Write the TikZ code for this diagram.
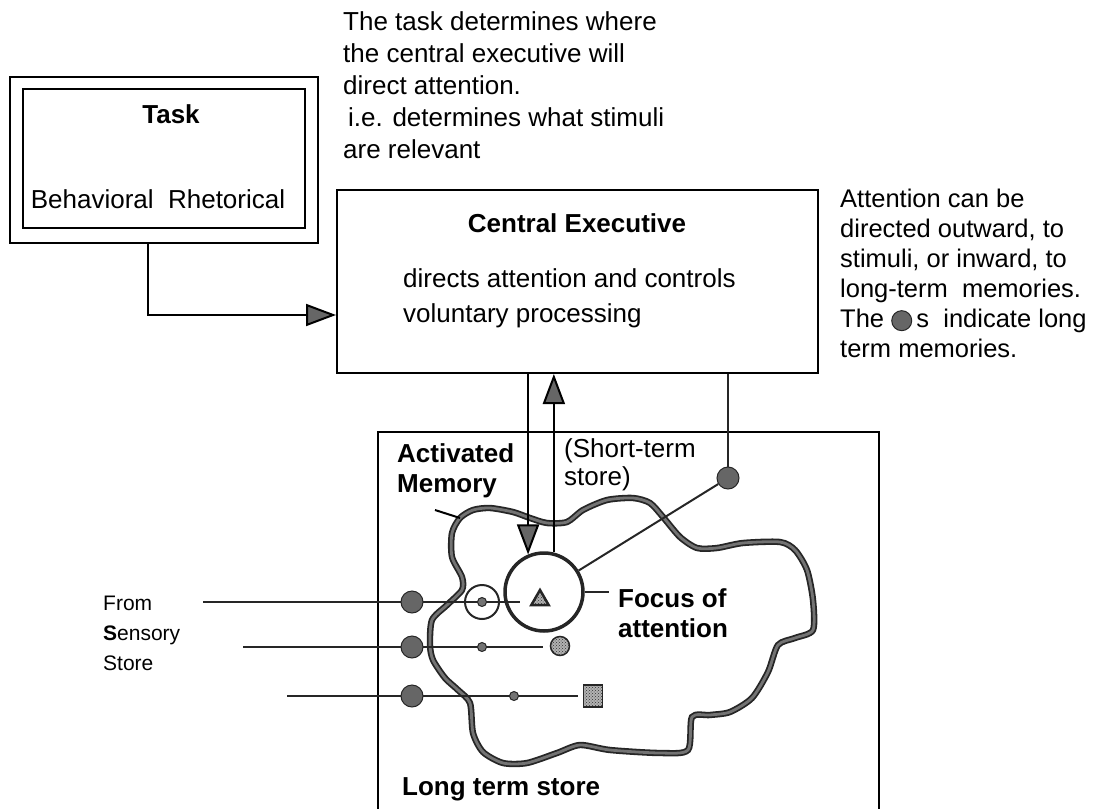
\documentclass[tikz,border=0pt]{standalone}
\usepackage{fontspec}
\setmainfont{Liberation Sans}
\usetikzlibrary{arrows.meta,shapes.geometric,patterns}
\newcommand{\memdot}{\tikz[baseline={(0pt,-7pt)}]\filldraw[draw=black!85,fill=black!60,line width=1pt] (0pt,0pt) circle (10pt);}

\begin{document}
\begin{tikzpicture}[x=1pt, y=-1pt,
  font=\fontsize{26}{31}\selectfont,
  box/.style={draw, line width=2pt, inner sep=0pt},
  txt/.style={anchor=north west, align=left, inner sep=0pt},
  bf/.style={font=\fontsize{26}{30}\selectfont\bfseries},
  wire/.style={draw=black!85, line width=2pt},
  arr/.style={line width=2pt, -{Triangle[length=30pt, width=22pt, fill=black!60]}},
  memline/.style={draw=black!85, line width=1.8pt, double=black!55, double distance=2.8pt},
  bigdot/.style={circle, draw=black!85, fill=black!60, line width=1pt, minimum size=22pt, inner sep=0pt},
  smalldot/.style={circle, draw=black!85, fill=black!55, line width=1pt, minimum size=9pt, inner sep=0pt},
  stim/.style={draw=black!85, line width=1.5pt, preaction={fill=black!30}, pattern=crosshatch dots, pattern color=black!80, inner sep=0pt}]
\useasboundingbox (0,0) rectangle (1104,809);

\node[box, line width=2.5pt, minimum width=308pt, minimum height=166pt] (task) at (164,160) {};
\node[box, line width=1.5pt, minimum width=282pt, minimum height=139pt] (taskin) at (164,158.5) {};
\node[bf, anchor=base, inner sep=0pt] (tasklbl) at (171,123) {Task};
\node[anchor=base, inner sep=0pt] (kinds) at (158,208) {Behavioral\ \ Rhetorical};

\node[txt, font=\fontsize{26}{32}\selectfont] (tasknote) at (343,11) {The task determines where\\the central executive will\\direct attention.\\\hspace*{5pt}i.e. determines what stimuli\\are relevant};

\node[box, minimum width=481pt, minimum height=183pt] (ce) at (577.5,281.5) {};
\node[bf, anchor=base, inner sep=0pt] (celbl) at (577,232) {Central Executive};
\node[txt, font=\fontsize{26}{35}\selectfont] (cetext) at (403,268) {directs attention and controls\\voluntary processing};

\node[txt, font=\fontsize{25.5}{30}\selectfont] (attnote) at (840,189) {Attention can be\\directed outward, to\\stimuli, or inward, to\\long-term\ \ memories.\\The \memdot\,s\ \ indicate long\\term memories.};

\draw[line width=2pt] (378,815) |- (879,432) -- (879,815);
\node[txt, bf] (actlbl) at (397,443) {Activated\\Memory};
\node[txt, font=\fontsize{26}{28}\selectfont] (stslbl) at (564,438) {(Short-term\\store)};
\node[bf, anchor=base west, inner sep=0pt] (ltslbl) at (402,795) {Long term store};
\node[txt, font=\fontsize{21}{30}\selectfont] (senslbl) at (103,596) {From\\\textbf{S}ensory\\Store};

\draw[memline] plot[smooth cycle, tension=0.45] coordinates {(460,518) (473,510) (490,508) (513,512) (530,518) (547,523) (567,522) (583,510) (607,500) (633,498) (650,503) (663,517) (680,537) (697,548) (717,548) (743,543) (780,542) (795,550) (807,570) (813,600) (813,630) (795,638) (778,645) (768,672) (752,698) (730,712) (710,715) (692,717) (688,750) (660,753) (610,750) (580,745) (557,753) (527,763) (503,763) (483,752) (473,733) (470,703) (458,690) (445,678) (433,660) (430,645) (432,620) (447,605) (462,590) (462,577) (452,557) (452,533)};
\coordinate (mptr) at (435,510);
\coordinate (mtip) at (460,518);
\draw[line width=2pt] (mptr) -- (mtip);

\coordinate (in1) at (203,602);
\coordinate (in2) at (243,647);
\coordinate (in3) at (287,696);
\coordinate (out1) at (520,602);
\coordinate (out2) at (543,647);
\coordinate (out3) at (578,696);
\draw[wire] (in1) -- (out1);
\draw[wire] (in2) -- (out2);
\draw[wire] (in3) -- (out3);

\node[bigdot] (m1) at (412,602) {};
\node[bigdot] (m2) at (412,647) {};
\node[bigdot] (m3) at (412,696) {};
\node[circle, draw=black!85, line width=2pt, minimum size=34pt] (sel) at (482,602) {};
\node[smalldot] (s1) at (482,602) {};
\node[smalldot] (s2) at (482,647) {};
\node[smalldot] (s3) at (514,696) {};
\node[circle, draw=black!85, line width=3.5pt, minimum size=78pt] (foc) at (544,592) {};
\node[stim, regular polygon, regular polygon sides=3, minimum size=20pt, line width=2.5pt] (tri) at (540,600) {};
\node[stim, circle, minimum size=19pt] (st2) at (560,646) {};
\node[stim, rectangle, minimum width=19pt, minimum height=22pt] (st3) at (593,696) {};
\node[bigdot] (ltm) at (728,478) {};

\draw[wire] (foc.east) -- ++(24,0);
\node[txt, bf] (foclbl) at (618,588) {Focus of\\attention};

\draw[arr] ([xshift=-16pt]task.south) |- ([yshift=-33.5pt]ce.west);
\draw[arr] (foc.113 |- ce.south) -- (foc.113);
\draw[arr] (foc.76) -- (foc.76 |- ce.south);
\draw[wire] (foc) -- (ltm);
\draw[wire] (ltm) -- (ltm |- ce.south);
\end{tikzpicture}
\end{document}
